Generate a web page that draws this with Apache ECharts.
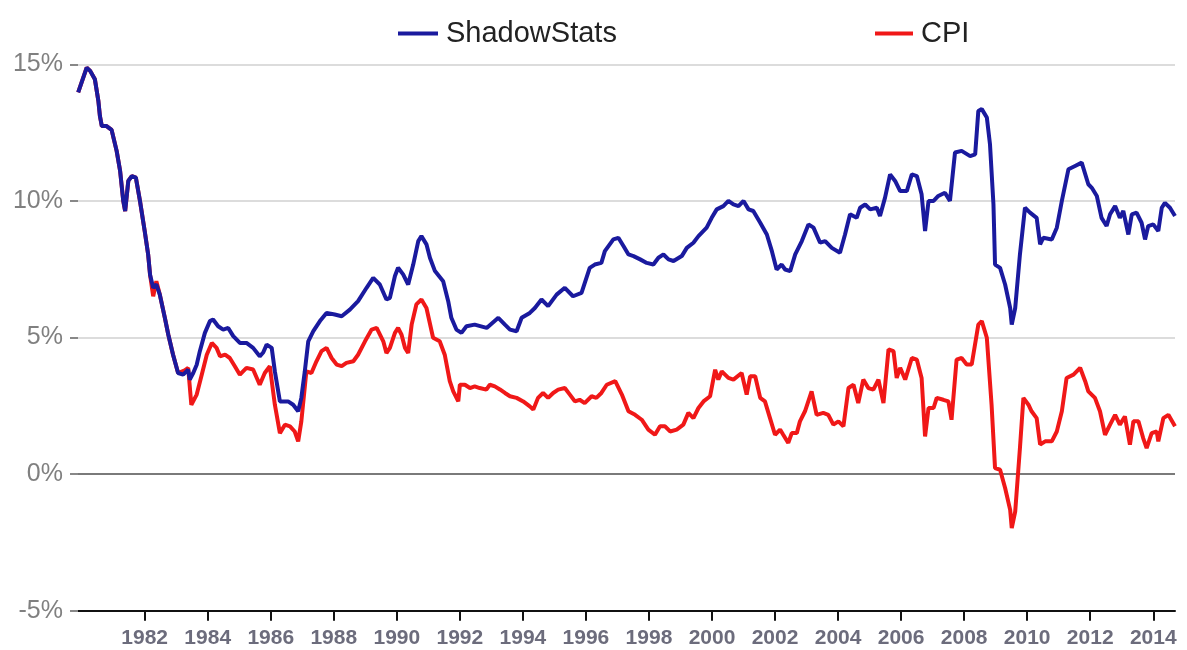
<!DOCTYPE html>
<html>
<head>
<meta charset="utf-8">
<script src="https://cdn.jsdelivr.net/npm/echarts@6/dist/echarts.min.js"></script>
<style>
html,body{margin:0;padding:0;background:#fff;}
#chart{width:1187px;height:650px;}
</style>
</head>
<body>
<div id="chart"></div>
<script>
// Tick labels (years)
const yearTicks = [1982,1984,1986,1988,1990,1992,1994,1996,1998,2000,2002,2004,2006,2008,2010,2012,2014];

// ShadowStats (alternate CPI, 1980-base)
const shadowYears = [
1979.89,1980.16,1980.27,1980.42,1980.53,1980.58,1980.64,1980.79,1980.95,1981.11,1981.22,1981.32,1981.38,1981.48,1981.59,1981.72,1981.85,
1982.0,1982.11,1982.17,1982.27,1982.37,1982.48,1982.64,1982.75,1982.9,1983.06,1983.22,1983.38,1983.43,1983.54,1983.65,1983.75,1983.91,
1984.07,1984.17,1984.33,1984.49,1984.65,1984.81,1985.02,1985.23,1985.44,1985.65,1985.76,1985.87,1986.03,1986.13,1986.29,1986.55,1986.71,
1986.87,1986.97,1987.08,1987.19,1987.35,1987.56,1987.77,1988.03,1988.25,1988.51,1988.77,1989.04,1989.25,1989.46,1989.67,1989.78,1989.94,
1990.04,1990.2,1990.36,1990.52,1990.68,1990.78,1990.94,1991.05,1991.21,1991.47,1991.63,1991.73,1991.89,1992.05,1992.21,1992.47,1992.85,
1993.22,1993.43,1993.59,1993.8,1993.96,1994.22,1994.38,1994.59,1994.8,1995.07,1995.33,1995.59,1995.86,1996.12,1996.28,1996.49,1996.6,
1996.87,1997.03,1997.19,1997.35,1997.51,1997.72,1997.93,1998.14,1998.3,1998.46,1998.62,1998.78,1999.04,1999.2,1999.41,1999.57,1999.83,
1999.99,2000.15,2000.36,2000.52,2000.68,2000.84,2001.0,2001.16,2001.31,2001.53,2001.74,2001.9,2002.05,2002.21,2002.32,2002.48,2002.64,
2002.85,2003.06,2003.22,2003.43,2003.59,2003.8,2004.06,2004.22,2004.38,2004.59,2004.7,2004.86,2005.02,2005.23,2005.33,2005.49,2005.65,
2005.81,2005.97,2006.18,2006.34,2006.5,2006.65,2006.76,2006.87,2007.03,2007.18,2007.39,2007.55,2007.71,2007.92,2008.19,2008.35,2008.45,
2008.56,2008.72,2008.82,2008.93,2008.98,2009.14,2009.3,2009.46,2009.51,2009.62,2009.77,2009.93,2010.09,2010.3,2010.41,2010.51,2010.78,
2010.94,2011.1,2011.31,2011.52,2011.73,2011.94,2012.05,2012.21,2012.36,2012.52,2012.63,2012.79,2012.94,2013.05,2013.21,2013.32,2013.47,
2013.63,2013.74,2013.84,2014.0,2014.16,2014.27,2014.37,2014.53,2014.69
];
const shadowValues = [
13.97,14.88,14.76,14.45,13.66,13.1,12.74,12.74,12.6,11.83,11.1,10.0,9.63,10.73,10.91,10.85,10.0,
8.9,8.04,7.3,6.82,6.94,6.57,5.72,5.1,4.37,3.70,3.64,3.82,3.46,3.70,4.0,4.5,5.17,
5.6,5.66,5.41,5.29,5.35,5.05,4.80,4.80,4.62,4.31,4.45,4.74,4.62,3.76,2.66,2.66,2.54,
2.30,2.79,3.76,4.86,5.23,5.6,5.9,5.84,5.78,6.02,6.33,6.82,7.18,6.94,6.39,6.45,7.25,
7.55,7.31,6.94,7.67,8.53,8.71,8.41,7.92,7.43,7.06,6.33,5.72,5.29,5.17,5.41,5.47,5.35,
5.72,5.47,5.29,5.23,5.72,5.90,6.08,6.39,6.15,6.57,6.82,6.51,6.63,7.55,7.67,7.73,8.16,
8.59,8.65,8.35,8.04,7.98,7.86,7.73,7.67,7.92,8.04,7.86,7.80,7.98,8.28,8.47,8.71,9.02,
9.38,9.69,9.81,10.0,9.87,9.81,10.0,9.69,9.63,9.2,8.77,8.16,7.49,7.67,7.49,7.43,8.04,
8.53,9.14,9.02,8.47,8.53,8.28,8.10,8.77,9.51,9.38,9.75,9.87,9.69,9.75,9.45,10.12,10.97,
10.73,10.36,10.36,10.97,10.91,10.24,8.9,10.0,10.0,10.18,10.3,10.0,11.77,11.83,11.64,11.7,13.29,
13.36,13.05,12.07,9.87,7.67,7.55,6.94,6.08,5.47,6.08,8.04,9.75,9.57,9.38,8.41,8.65,8.59,
9.02,10.0,11.16,11.28,11.4,10.61,10.48,10.18,9.38,9.08,9.51,9.81,9.38,9.63,8.77,9.51,9.57,
9.2,8.59,9.08,9.14,8.9,9.75,9.93,9.75,9.45
];

// CPI (official, year-over-year)
const cpiYears = [
1979.89,1980.16,1980.27,1980.42,1980.53,1980.58,1980.64,1980.79,1980.95,1981.11,1981.22,1981.32,1981.38,1981.48,1981.59,1981.72,1981.85,
1982.0,1982.11,1982.17,1982.27,1982.37,1982.48,1982.64,1982.75,1982.9,1983.06,1983.27,1983.38,1983.48,1983.65,1983.81,1983.97,1984.13,
1984.28,1984.39,1984.55,1984.7,1984.86,1985.02,1985.23,1985.44,1985.65,1985.81,1985.97,1986.13,1986.29,1986.45,1986.61,1986.76,1986.87,
1986.97,1987.13,1987.29,1987.45,1987.61,1987.77,1987.93,1988.09,1988.25,1988.4,1988.62,1988.77,1988.99,1989.2,1989.36,1989.57,1989.67,
1989.78,1989.94,1990.04,1990.15,1990.26,1990.36,1990.47,1990.62,1990.78,1990.94,1991.15,1991.36,1991.52,1991.68,1991.79,1991.95,
1992.0,1992.16,1992.32,1992.47,1992.63,1992.84,1992.95,1993.11,1993.27,1993.43,1993.59,1993.8,1994.01,1994.22,1994.33,1994.48,1994.64,
1994.8,1994.96,1995.12,1995.33,1995.49,1995.65,1995.8,1995.96,1996.18,1996.33,1996.49,1996.66,1996.93,1997.14,1997.35,1997.56,1997.77,
1997.98,1998.19,1998.35,1998.51,1998.67,1998.88,1999.09,1999.25,1999.41,1999.57,1999.73,1999.94,2000.1,2000.2,2000.31,2000.52,2000.68,
2000.94,2001.1,2001.21,2001.37,2001.53,2001.68,2001.84,2002.0,2002.16,2002.26,2002.42,2002.53,2002.69,2002.79,2002.95,2003.16,2003.32,
2003.53,2003.69,2003.85,2004.01,2004.17,2004.33,2004.49,2004.64,2004.8,2004.96,2005.12,2005.28,2005.44,2005.6,2005.76,2005.86,2005.97,
2006.13,2006.34,2006.5,2006.65,2006.76,2006.87,2007.03,2007.13,2007.34,2007.5,2007.6,2007.76,2007.92,2008.08,2008.24,2008.45,2008.56,
2008.72,2008.87,2008.98,2009.14,2009.3,2009.46,2009.51,2009.62,2009.77,2009.88,2010.04,2010.14,2010.3,2010.41,2010.57,2010.78,2010.94,
2011.1,2011.25,2011.47,2011.68,2011.84,2011.94,2012.15,2012.31,2012.47,2012.63,2012.79,2012.94,2013.1,2013.26,2013.37,2013.53,2013.68,
2013.79,2013.95,2014.11,2014.16,2014.32,2014.48,2014.69
];
const cpiValues = [
13.97,14.88,14.76,14.45,13.66,13.1,12.74,12.74,12.6,11.83,11.1,10.0,9.63,10.73,10.91,10.85,10.0,
8.9,8.04,7.3,6.51,7.06,6.57,5.72,5.1,4.37,3.70,3.80,3.89,2.54,2.91,3.64,4.37,4.80,
4.62,4.31,4.37,4.25,3.95,3.64,3.89,3.83,3.27,3.70,3.95,2.54,1.50,1.81,1.75,1.56,1.20,
1.93,3.76,3.70,4.13,4.50,4.62,4.25,4.01,3.95,4.07,4.13,4.37,4.86,5.29,5.35,4.86,4.43,
4.62,5.17,5.35,5.10,4.62,4.43,5.47,6.21,6.39,6.08,4.99,4.86,4.37,3.40,3.03,2.66,
3.27,3.27,3.15,3.21,3.15,3.09,3.27,3.21,3.10,2.97,2.85,2.79,2.66,2.48,2.36,2.79,2.97,
2.79,2.97,3.09,3.15,2.91,2.66,2.72,2.60,2.85,2.79,2.97,3.27,3.40,2.91,2.30,2.17,1.99,
1.63,1.44,1.75,1.75,1.56,1.63,1.81,2.24,2.05,2.42,2.66,2.85,3.82,3.46,3.76,3.52,3.46,
3.70,2.91,3.58,3.58,2.79,2.66,2.05,1.44,1.63,1.44,1.14,1.50,1.50,1.93,2.30,3.03,2.17,
2.24,2.17,1.81,1.93,1.75,3.15,3.27,2.60,3.46,3.15,3.09,3.46,2.60,4.56,4.50,3.52,3.89,
3.46,4.25,4.19,3.52,1.38,2.42,2.42,2.79,2.72,2.66,1.99,4.19,4.25,4.01,4.01,5.47,5.60,
4.99,2.54,0.22,0.16,-0.51,-1.31,-1.98,-1.37,0.95,2.79,2.54,2.30,2.05,1.08,1.20,1.20,1.56,
2.30,3.52,3.64,3.89,3.40,3.03,2.79,2.30,1.44,1.81,2.17,1.81,2.11,1.08,1.93,1.93,1.32,
0.95,1.50,1.56,1.20,2.05,2.17,1.75
];

function pairs(xs, ys){ const out=[]; for(let i=0;i<Math.min(xs.length,ys.length);i++) out.push([xs[i],ys[i]]); return out; }
const shadowData = pairs(shadowYears, shadowValues);
const cpiData = pairs(cpiYears, cpiValues);

const FONT = "'Liberation Sans', Arial, sans-serif";
const chart = echarts.init(document.getElementById('chart'), null, {renderer:'canvas'});
chart.setOption({
  animation:false,
  backgroundColor:'#ffffff',
  legend:[
    {data:['ShadowStats'], left:393, top:14, itemWidth:40, itemHeight:4, icon:'rect',
     textStyle:{fontFamily:FONT, fontSize:29, color:'#222', padding:[0,0,0,3]}},
    {data:['CPI'], left:870, top:14, itemWidth:38, itemHeight:4, icon:'rect',
     textStyle:{fontFamily:FONT, fontSize:29, color:'#222', padding:[0,0,0,3]}}
  ],
  grid:{left:78, right:12, top:64.3, bottom:39.3, containLabel:false},
  xAxis:{
    type:'value', min:1979.884, max:2014.69,
    axisLine:{onZero:false, lineStyle:{color:'#111', width:2}},
    axisTick:{show:true, customValues:yearTicks, length:10, inside:false, lineStyle:{color:'#111', width:2}},
    axisLabel:{customValues:yearTicks, fontFamily:FONT, fontWeight:'bold', fontSize:21, color:'#6c6c7c', margin:17,
      formatter:v=>String(v)},
    splitLine:{show:false}
  },
  yAxis:{
    type:'value', min:-5, max:15, interval:5,
    axisLine:{show:false},
    axisTick:{show:true, length:8, lineStyle:{color:'#888', width:2}},
    axisLabel:{fontFamily:FONT, fontSize:25, color:'#808080', margin:15, formatter:'{value}%'},
    splitLine:{show:true, lineStyle:{color:['rgba(0,0,0,0)','#7a7a7a','#dcdcdc','#dcdcdc','#dcdcdc'], width:2}}
  },
  series:[
    {name:'CPI', type:'line', data:cpiData, showSymbol:false, symbol:'none',
     lineStyle:{color:'#f01818', width:4}, itemStyle:{color:'#f01818'}},
    {name:'ShadowStats', type:'line', data:shadowData, showSymbol:false, symbol:'none',
     lineStyle:{color:'#1a1a9e', width:4}, itemStyle:{color:'#1a1a9e'}}
  ]
});
</script>
</body>
</html>
